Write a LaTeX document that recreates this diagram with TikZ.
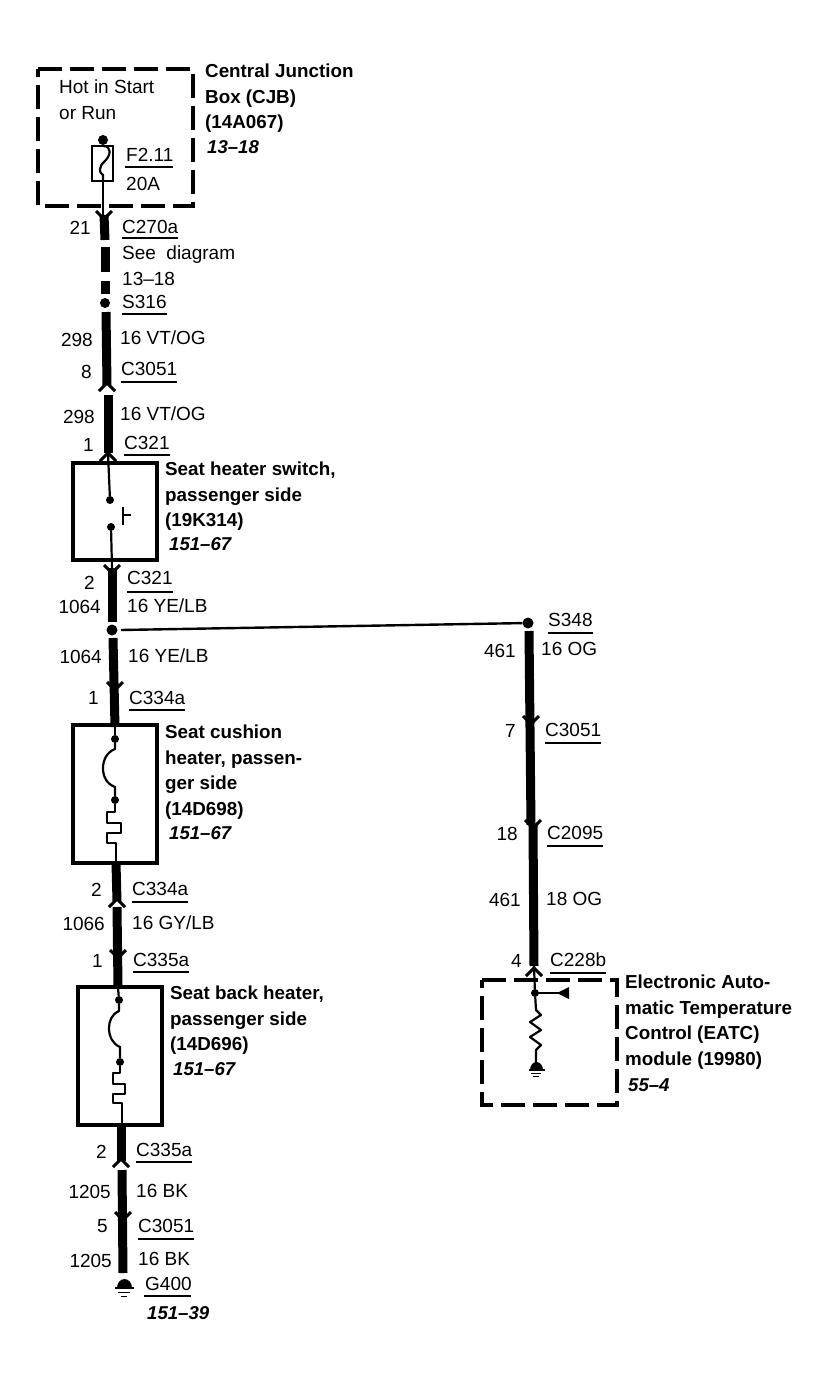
\documentclass[tikz,border=0pt]{standalone}
\usepackage{fontspec}
\setmainfont{Liberation Sans}
\tikzset{
 x=1pt,y=-1pt,
 txt/.style={font=\fontsize{19}{22}\selectfont,anchor=west,inner sep=0pt,align=left},
 btxt/.style={font=\fontsize{18.8}{25.4}\selectfont\bfseries,anchor=north west,inner sep=0pt,align=left},
 pin/.style={font=\fontsize{19}{22}\selectfont,anchor=east,inner sep=0pt},
 refi/.style={font=\fontsize{18.6}{22}\selectfont\bfseries\itshape,anchor=west,inner sep=0pt},
 wire/.style={line width=9pt},
 thin wire/.style={line width=2.4pt},
 inner wire/.style={line width=2.2pt,line join=round},
 boxl/.style={line width=4.2pt,line join=miter},
 dashbox/.style={line width=4pt,dash pattern=on 24pt off 8pt},
 ul/.style={line width=1.5pt},
 dot/.style={circle,fill=black,inner sep=0pt,minimum size=#1},
 dot/.default=10pt,
 chev/.style={line width=3pt},
}
\newcommand{\chevd}[2]{\draw[chev] (#1-8,#2-6)--(#1,#2+2)--(#1+8,#2-6);}
\newcommand{\chevu}[2]{\draw[chev] (#1-8,#2+5)--(#1,#2-3)--(#1+8,#2+5);}
\newcommand{\lab}[4]{\node[txt] (#1) at (#2,#3) {#4};}
\newcommand{\conn}[6]{\node[txt] (#1) at (#2,#3) {#4};\draw[ul] (#2,#3+#5)--++(#6,0);}
\begin{document}
\begin{tikzpicture}
\useasboundingbox[fill=white] (0,0) rectangle (820,1376);
% CJB box
\draw[dashbox] (38,69)--(193,69)--(193,206)--(38,206)--cycle;
\lab{hot}{59}{87}{Hot in Start}
\lab{orrun}{59}{113}{or Run}
\node[dot=10pt] (fusetop) at (103,140) {};
\draw[line width=2pt] (92,146) rectangle (113,181);
\draw[inner wire] (fusetop)--(103,146) .. controls (112,146) and (111,155) .. (105,161) .. controls (98,167) and (99,173) .. (103,175)--(103,181);
\coordinate (fusebot) at (103,181);
\coordinate (c270) at (103,216);
\draw[thin wire] (fusebot)--(c270);
\lab{f211}{126}{155}{F2.11}\draw[ul] (125,167)--(173,167);
\lab{a20}{126}{184}{20A}
\node[btxt] (cjb) at (205,64) {Central Junction\\Box (CJB)\\(14A067)};
\node[refi] (cjbr) at (207,147) {13--18};
% wire top
\coordinate (t1) at (104,215);
\coordinate (t2) at (105,240);
\draw[wire] (t1)--(t2);
\draw[wire] (105,247)--(105,272);
\draw[wire] (105,281)--(105,294);
\chevd{104}{217}
\node[pin] (p21) at (91,228) {21};
\conn{c270a}{122}{227}{C270a}{11}{56}
\lab{seed}{122}{255}{See\hspace{0.55em}diagram}
\lab{seed2}{122}{279}{13--18}
\node[dot=10pt] (s316) at (105,303) {};
\conn{s316l}{122}{302}{S316}{12}{45}
\coordinate (w1a) at (106,312);
\coordinate (w1b) at (107,385);
\coordinate (w2a) at (108,395);
\coordinate (w2b) at (108,453);
\draw[wire] (w1a)--(w1b);
\chevu{107}{386}
\draw[wire] (w2a)--(w2b);
\node[pin] (p298a) at (93,340) {298};
\lab{vt1}{120}{338}{16 VT/OG}
\node[pin] (p8) at (92,372) {8};
\conn{c3051a}{121}{369}{C3051}{13}{56}
\node[pin] (p298b) at (95,417) {298};
\lab{vt2}{120}{414}{16 VT/OG}
\node[pin] (p1a) at (94,445) {1};
\conn{c321a}{124}{443}{C321}{12}{46}
\chevu{108}{456}
% switch
\draw[boxl] (73,463) rectangle (157,560);
\node[dot=8pt] (sw1) at (110,500) {};
\node[dot=8pt] (sw2) at (111,527) {};
\draw[inner wire] (w2b)--(sw1);
\draw[inner wire] (sw2)--(112,568);
\draw[inner wire] (123,507)--(123,525) (123,515)--(131,515);
\node[btxt] (swt) at (165,462) {Seat heater switch,\\passenger side\\(19K314)};
\node[refi] (swr) at (169,544) {151--67};
% below switch
\coordinate (w3a) at (112,568);
\coordinate (w3b) at (112,622);
\draw[wire] (w3a)--(w3b);
\chevd{112}{571}
\node[pin] (p2a) at (95,583) {2};
\conn{c321b}{127}{578}{C321}{14}{46}
\node[pin] (p1064a) at (101,607) {1064};
\lab{ye1}{127}{606}{16 YE/LB}
\node[dot=11pt] (j1) at (112,630) {};
\node[dot=11pt] (s348) at (528,623) {};
\draw[line width=2.4pt] (121,630)--(s348);
\conn{s348l}{548}{620}{S348}{13}{45}
\coordinate (w4a) at (113,638);
\coordinate (w4b) at (115,727);
\draw[wire] (w4a)--(w4b);
\chevd{115}{688}
\node[pin] (p1064b) at (102,657) {1064};
\lab{ye2}{128}{656}{16 YE/LB}
\node[pin] (p1b) at (99,698) {1};
\conn{c334a}{129}{698}{C334a}{12}{56}
% cushion
\draw[boxl] (73,725) rectangle (157,863);
\node[dot=8pt] (h1) at (115,739) {};
\node[dot=8pt] (h2) at (115,800) {};
\draw[inner wire] (115,727)--(h1);
\draw[inner wire] (h1)--(115,749) .. controls (107,752) and (103,760) .. (103,768) .. controls (103,777) and (107,784) .. (115,787)--(h2);
\draw[inner wire] (h2)--(115,812)--(107,812)--(107,823)--(121,823)--(121,833)--(107,833)--(107,843)--(116,843)--(116,862);
\node[btxt] (cust) at (165,725) {Seat cushion\\heater, passen-\\ger side\\(14D698)};
\node[refi] (cusr) at (169,833) {151--67};
% below cushion
\coordinate (w5a) at (116,863);
\coordinate (w5b) at (117,901);
\coordinate (w6a) at (117,907);
\coordinate (w6b) at (118,987);
\draw[wire] (w5a)--(w5b);
\draw[wire] (w6a)--(w6b);
\chevu{117}{902}
\node[pin] (p2b) at (102,890) {2};
\conn{c334b}{132}{889}{C334a}{13}{56}
\node[pin] (p1066) at (105,924) {1066};
\lab{gy}{132}{923}{16 GY/LB}
\node[pin] (p1c) at (103,961) {1};
\conn{c335a}{133}{960}{C335a}{12}{56}
\chevd{118}{956}
% seat back
\draw[boxl] (78,987) rectangle (162,1125);
\node[dot=8pt] (b1) at (119,1000) {};
\node[dot=8pt] (b2) at (120,1062) {};
\draw[inner wire] (w6b)--(b1);
\draw[inner wire] (b1)--(119,1011) .. controls (112,1014) and (109,1021) .. (109,1028) .. controls (109,1037) and (113,1044) .. (120,1047)--(b2);
\draw[inner wire] (b2)--(120,1073)--(113,1073)--(113,1084)--(125,1084)--(125,1094)--(113,1094)--(113,1103)--(122,1103)--(122,1124);
\node[btxt] (bakt) at (170,986) {Seat back heater,\\passenger side\\(14D696)};
\node[refi] (bakr) at (173,1069) {151--67};
% bottom
\coordinate (w7a) at (121,1125);
\coordinate (w7b) at (121,1161);
\coordinate (w8a) at (122,1170);
\coordinate (w8b) at (123,1273);
\draw[wire] (w7a)--(w7b);
\draw[wire] (w8a)--(w8b);
\chevu{121}{1162}
\chevd{123}{1218}
\node[pin] (p2c) at (107,1152) {2};
\conn{c335b}{136}{1150}{C335a}{12}{56}
\node[pin] (p1205a) at (111,1192) {1205};
\lab{bk1}{136}{1191}{16 BK}
\node[pin] (p5) at (108,1226) {5};
\conn{c3051b}{138}{1226}{C3051}{13}{56}
\node[pin] (p1205b) at (112,1261) {1205};
\lab{bk2}{138}{1259}{16 BK}
\lab{g400}{145}{1284}{G400}\draw[ul] (144,1296)--(191,1296);
\node[refi] (g4r) at (147,1313) {151--39};
% ground
\fill (117,1288) arc (180:360:7.5 and 9)--cycle;
\draw[line width=1.8pt] (115,1288)--(134,1288) (118,1292.5)--(130,1292.5) (121,1296.5)--(127,1296.5);
% right wire
\coordinate (r2a) at (529,631);
\coordinate (r2b) at (531,825);
\coordinate (r3a) at (533,825);
\coordinate (r3b) at (534,966);
\draw[wire] (r2a)--(r2b);
\draw[wire] (r3a)--(r3b);
\chevd{531}{722}
\chevd{533}{826}
\chevu{534}{971}
\node[pin] (p461a) at (516,651) {461};
\lab{og1}{541}{649}{16 OG}
\node[pin] (p7) at (516,731) {7};
\conn{c3051c}{545}{730}{C3051}{13}{56}
\node[pin] (p18) at (518,834) {18};
\conn{c2095}{547}{833}{C2095}{13}{56}
\node[pin] (p461b) at (521,900) {461};
\lab{og2}{546}{899}{18 OG}
\node[pin] (p4) at (522,961) {4};
\conn{c228}{550}{960}{C228b}{13}{56}
% EATC
\draw[dashbox] (482,980)--(617,980)--(617,1105)--(482,1105)--cycle;
\node[dot=8pt] (e1) at (535,993) {};
\draw[inner wire] (r3b)--(e1);
\draw[inner wire] (e1)--(560,993);
\fill (569,987)--(569,999)--(557,993)--cycle;
\draw[inner wire] (e1)--(536,1010)--(541,1015)--(530,1022)--(541,1030)--(530,1037)--(541,1045)--(536,1050)--(536,1065);
\fill (530,1070) arc (180:360:6.5 and 8)--cycle;
\draw[line width=1.5pt] (529,1070)--(545,1070) (531,1073.5)--(541,1073.5) (533,1076.5)--(539,1076.5);
\node[btxt] (eatct) at (625,975) {Electronic Auto-\\matic Temperature\\Control (EATC)\\module (19980)};
\node[refi] (eatcr) at (628,1085) {55--4};
\end{tikzpicture}
\end{document}
